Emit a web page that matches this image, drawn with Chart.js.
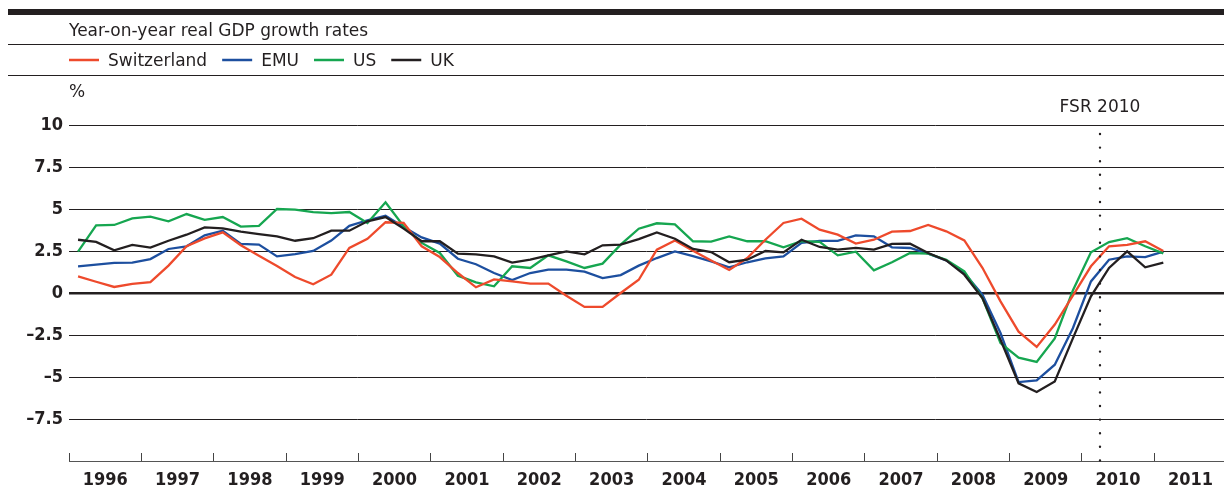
<!DOCTYPE html>
<html><head><meta charset="utf-8">
<script src="https://cdn.jsdelivr.net/npm/chart.js@4.4.1/dist/chart.umd.min.js"></script>
<style>html,body{margin:0;padding:0;background:#fff;overflow:hidden}#wrap{position:relative;width:1224px;height:486px}</style>
</head><body><div id="wrap"><canvas id="c" width="1224" height="486"></canvas></div>
<script>
const titleText = 'Year-on-year real GDP growth rates';
const unitText = '%';
const markerLabel = 'FSR 2010';
const markerDate = 2010.25;
const yearTicks = [1996,1997,1998,1999,2000,2001,2002,2003,2004,2005,2006,2007,2008,2009,2010,2011];
const yTicks = [-7.5,-5,-2.5,0,2.5,5,7.5,10];
const seriesNames = ['Switzerland','EMU','US','UK'];
const seriesColors = ['#ee4a2c','#1d4f9f','#16a650','#231f20'];

// quarterly categories 1996Q1 .. 2011Q1
const quarters = [];
for (let y = 1996; y <= 2011; y++) for (let q = 1; q <= 4; q++) quarters.push(y + 'Q' + q);
quarters.length = 61;

const switzerland = [0.99,0.67,0.36,0.54,0.65,1.63,2.78,3.25,3.61,2.84,2.22,1.61,0.95,0.52,1.09,2.68,3.23,4.21,4.17,2.78,2.14,1.19,0.34,0.81,0.69,0.56,0.56,-0.16,-0.83,-0.83,0.0,0.79,2.58,3.12,2.52,1.94,1.37,2.08,3.17,4.17,4.42,3.77,3.47,2.94,3.17,3.65,3.69,4.05,3.67,3.13,1.5,-0.5,-2.3,-3.21,-1.88,-0.15,1.59,2.78,2.87,3.08,2.5];
const emu = [1.59,1.69,1.79,1.81,2.02,2.62,2.78,3.43,3.71,2.92,2.88,2.18,2.32,2.5,3.12,4.0,4.33,4.6,3.93,3.31,2.94,2.04,1.71,1.19,0.77,1.19,1.39,1.39,1.27,0.89,1.07,1.63,2.08,2.48,2.2,1.88,1.53,1.83,2.06,2.18,2.98,3.1,3.1,3.43,3.37,2.72,2.68,2.34,1.94,1.19,-0.1,-2.38,-5.3,-5.2,-4.27,-2.1,0.69,1.98,2.18,2.13,2.46];
const us = [2.46,4.03,4.05,4.44,4.54,4.27,4.7,4.35,4.52,3.95,4.0,5.0,4.96,4.82,4.76,4.82,4.17,5.4,3.97,2.98,2.38,1.03,0.63,0.4,1.59,1.49,2.24,1.88,1.49,1.75,2.88,3.83,4.15,4.09,3.08,3.06,3.37,3.08,3.08,2.72,3.08,3.04,2.24,2.46,1.35,1.83,2.38,2.34,1.98,1.29,-0.3,-2.98,-3.85,-4.1,-2.7,0.15,2.42,3.03,3.26,2.78,2.36];
const uk = [3.17,3.04,2.54,2.86,2.7,3.11,3.47,3.91,3.85,3.65,3.51,3.37,3.11,3.26,3.71,3.71,4.27,4.52,3.83,3.08,3.08,2.34,2.3,2.18,1.81,1.98,2.24,2.48,2.3,2.84,2.88,3.21,3.61,3.23,2.62,2.44,1.83,1.98,2.5,2.42,3.17,2.74,2.58,2.68,2.58,2.92,2.94,2.38,1.94,1.09,-0.3,-2.78,-5.38,-5.89,-5.27,-2.7,-0.2,1.49,2.48,1.53,1.81];

const FONT = "'DejaVu Sans Condensed', 'DejaVu Sans', sans-serif";
const TEXT_FONT = "'DejaVu Sans', sans-serif";
const INK = '#231f20';

function qx(label) { const y = +label.slice(0,4), q = +label.slice(5); return y + (q - 0.5) / 4; }
function pts(values) { return values.map((v, i) => ({x: qx(quarters[i]), y: v})); }

const allSeries = [switzerland, emu, us, uk];
const datasets = allSeries.map((vals, k) => ({
  label: seriesNames[k], data: pts(vals), borderColor: seriesColors[k], backgroundColor: seriesColors[k],
  borderWidth: 2.3, pointRadius: 0, tension: 0, fill: false, order: [2,4,3,1][k]
}));

const header = {
  id: 'header',
  afterDraw(chart) {
    const ctx = chart.ctx, W = chart.width;
    ctx.save();
    ctx.fillStyle = INK;
    ctx.fillRect(8, 9, W - 8, 6);
    ctx.fillRect(8, 44, W - 8, 1);
    ctx.fillRect(8, 75, W - 8, 1);
    ctx.textBaseline = 'alphabetic';
    ctx.textAlign = 'left';
    ctx.font = '17px ' + TEXT_FONT;
    ctx.fillText(titleText, 69, 36);
    let x = 69;
    chart.data.datasets.forEach(ds => {
      ctx.strokeStyle = ds.borderColor; ctx.lineWidth = 2.5;
      ctx.beginPath(); ctx.moveTo(x, 60); ctx.lineTo(x + 30, 60); ctx.stroke();
      ctx.fillStyle = INK;
      ctx.fillText(ds.label, x + 39, 66);
      x += 39 + ctx.measureText(ds.label).width + 15;
    });
    ctx.fillText(unitText, 69, 97);
    const xs = chart.scales.x, area = chart.chartArea;
    const px = xs.getPixelForValue(markerDate);
    ctx.textAlign = 'center';
    ctx.fillText(markerLabel, px, 112);
    ctx.strokeStyle = INK; ctx.lineWidth = 2.4; ctx.lineCap = 'round';
    ctx.setLineDash([0, 13.6]);
    ctx.beginPath(); ctx.moveTo(px, area.top + 9); ctx.lineTo(px, area.bottom); ctx.stroke();
    ctx.restore();
  }
};

new Chart(document.getElementById('c'), {
  type: 'line',
  data: { datasets },
  plugins: [header],
  options: {
    responsive: false, animation: false, devicePixelRatio: 1,
    layout: { padding: { top: 125, left: 0, right: 0, bottom: 0 } },
    plugins: { legend: { display: false }, title: { display: false }, tooltip: { enabled: false } },
    scales: {
      x: {
        type: 'linear', min: 1996, max: 2011.964,
        afterBuildTicks: s => { s.ticks = yearTicks.map(v => ({ value: v })); },
        afterFit: s => { s.height = 25; },
        grid: { drawOnChartArea: false, drawTicks: true, tickLength: -8, color: '#444', lineWidth: 1 },
        border: { display: true, color: '#555', width: 1 },
        ticks: {
          autoSkip: false, maxRotation: 0, minRotation: 0, labelOffset: 36.2, padding: 17,
          color: INK, font: { family: FONT, size: 18, weight: 'bold' },
          callback: v => String(v)
        }
      },
      y: {
        type: 'linear', min: -10, max: 10,
        afterBuildTicks: s => { s.ticks = yTicks.map(v => ({ value: v })); },
        afterFit: s => { s.width = 69; },
        grid: { drawTicks: false, color: INK, lineWidth: c => (c.tick && c.tick.value === 0) ? 2.4 : 1 },
        border: { display: false },
        ticks: {
          padding: 6, color: INK, font: { family: FONT, size: 18, weight: 'bold' },
          callback: v => (v < 0 ? '\u2013' + String(-v) : String(v))
        }
      }
    }
  }
});
</script></body></html>
